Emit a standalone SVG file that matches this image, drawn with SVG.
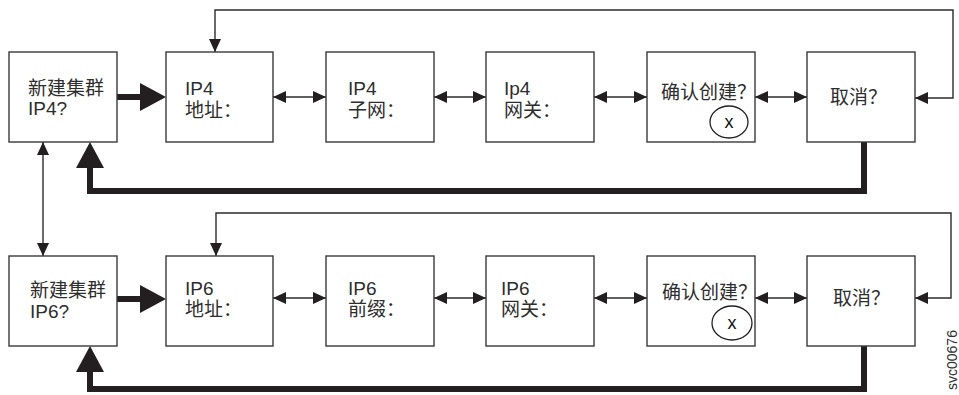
<svg xmlns="http://www.w3.org/2000/svg" width="959" height="395" viewBox="0 0 959 395">
<style>
.box{fill:#fff;stroke:#3a3a3a;stroke-width:1.4}
.t{font-family:"Liberation Sans","Noto Sans CJK SC",sans-serif;font-size:19px;fill:#2e2e2e}
.x{font-family:"Liberation Sans",sans-serif;font-size:18px;fill:#111;text-anchor:middle}
.thin{fill:none;stroke:#2b2b2b;stroke-width:1.4;marker-start:url(#ah);marker-end:url(#ah)}
.thick{fill:none;stroke:#231f20;stroke-width:6}
.head{fill:#231f20}
.ov{fill:#fff;stroke:#222;stroke-width:1.3}
</style>
<defs>
<marker id="ah" viewBox="0 0 13 12" refX="13" refY="6" markerWidth="13" markerHeight="12" markerUnits="userSpaceOnUse" orient="auto-start-reverse">
<path d="M0,0 L13,6 L0,12 Z" fill="#231f20"/>
</marker>
</defs>
<g id="connectors">
<line class="thick" x1="117" y1="97" x2="145" y2="97"/>
<polygon class="head" points="140,83 166,97 140,111"/>
<line class="thin" x1="273" y1="97" x2="326" y2="97"/>
<line class="thin" x1="434" y1="97" x2="486" y2="97"/>
<line class="thin" x1="594" y1="97" x2="647" y2="97"/>
<line class="thin" x1="755" y1="97" x2="807" y2="97"/>
<path class="thin" d="M915,98 H953 V10 H215 V52"/>
<path class="thick" d="M864,142 V191 H90 V165"/>
<polygon class="head" points="76,168 90,142 104,168"/>
<line class="thin" x1="43" y1="142" x2="43" y2="256"/>
<line class="thick" x1="117" y1="299" x2="145" y2="299"/>
<polygon class="head" points="140,285 166,299 140,313"/>
<line class="thin" x1="273" y1="298" x2="326" y2="298"/>
<line class="thin" x1="434" y1="298" x2="486" y2="298"/>
<line class="thin" x1="594" y1="298" x2="647" y2="298"/>
<line class="thin" x1="755" y1="298" x2="807" y2="298"/>
<path class="thin" d="M915,298 H951 V213 H216 V256"/>
<path class="thick" d="M864,346 V389 H90 V369"/>
<polygon class="head" points="76,372 90,346 104,372"/>
</g>
<g id="n1a"><rect class="box" x="9" y="52" width="108" height="90"/><text class="t" x="28" y="95">新建集群</text><text class="t" x="28" y="115">IP4?</text></g>
<g id="n2a"><rect class="box" x="166" y="52" width="107" height="90"/><text class="t" x="185" y="95">IP4</text><text class="t" x="185" y="117">地址：</text></g>
<g id="n3a"><rect class="box" x="326" y="52" width="108" height="90"/><text class="t" x="348" y="95">IP4</text><text class="t" x="348" y="117">子网：</text></g>
<g id="n4a"><rect class="box" x="486" y="52" width="108" height="90"/><text class="t" x="504" y="95">Ip4</text><text class="t" x="504" y="117">网关：</text></g>
<g id="n5a"><rect class="box" x="647" y="52" width="108" height="90"/><text class="t" x="661" y="99">确认创建？</text><ellipse class="ov" cx="729" cy="122" rx="19" ry="16"/><text class="x" x="729" y="128">x</text></g>
<g id="n6a"><rect class="box" x="807" y="52" width="108" height="90"/><text class="t" x="830" y="104">取消？</text></g>
<g id="n1b"><rect class="box" x="9" y="256" width="108" height="90"/><text class="t" x="30" y="297">新建集群</text><text class="t" x="30" y="318">IP6?</text></g>
<g id="n2b"><rect class="box" x="166" y="256" width="107" height="90"/><text class="t" x="185" y="295">IP6</text><text class="t" x="185" y="316">地址：</text></g>
<g id="n3b"><rect class="box" x="326" y="256" width="108" height="90"/><text class="t" x="348" y="295">IP6</text><text class="t" x="348" y="316">前缀：</text></g>
<g id="n4b"><rect class="box" x="486" y="256" width="108" height="90"/><text class="t" x="501" y="295">IP6</text><text class="t" x="501" y="316">网关：</text></g>
<g id="n5b"><rect class="box" x="647" y="256" width="108" height="90"/><text class="t" x="662" y="299">确认创建？</text><ellipse class="ov" cx="732" cy="323" rx="20" ry="17"/><text class="x" x="732" y="329">x</text></g>
<g id="n6b"><rect class="box" x="807" y="256" width="108" height="90"/><text class="t" x="833" y="305">取消？</text></g>
<text transform="translate(957,390) rotate(-90)" font-family="Liberation Sans, sans-serif" font-size="14" fill="#2e2e2e">svc00676</text>
</svg>
